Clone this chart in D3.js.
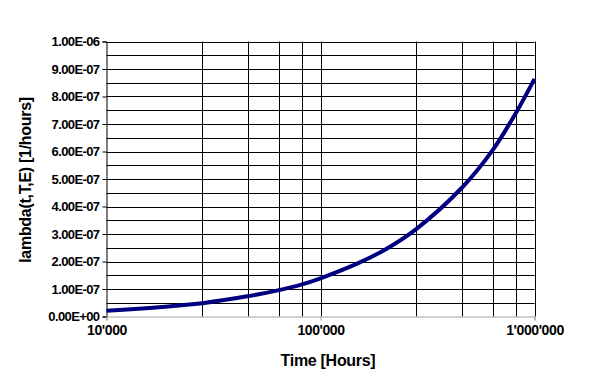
<!DOCTYPE html>
<html><head><meta charset="utf-8">
<script src="https://cdn.jsdelivr.net/npm/d3@7"></script>
<style>
body{margin:0;background:#fff;}
text{font-family:"Liberation Sans",Arial,sans-serif;font-weight:bold;fill:#000;}
</style></head><body>
<svg id="c" width="604" height="375"></svg>
<script>
// Data
const timeHours = [10000, 28000, 46000, 64000, 82000, 100000, 150000, 200000, 280000, 460000, 640000, 820000, 1000000];
const lambdaVals = [2.07e-8, 4.85e-8, 7.4e-8, 9.6e-8, 1.17e-7, 1.39e-7, 1.94e-7, 2.43e-7, 3.18e-7, 4.7e-7, 6.07e-7, 7.41e-7, 8.64e-7];
const xMajorTicks = [10000, 100000, 1000000];
const xTickLabels = ["10'000", "100'000", "1'000'000"];
const xMinorGrid = [28000, 46000, 64000, 82000, 280000, 460000, 640000, 820000];
const yTicks = [0, 1e-7, 2e-7, 3e-7, 4e-7, 5e-7, 6e-7, 7e-7, 8e-7, 9e-7, 1e-6];
const yTickLabels = ["0.00E+00","1.00E-07","2.00E-07","3.00E-07","4.00E-07","5.00E-07","6.00E-07","7.00E-07","8.00E-07","9.00E-07","1.00E-06"];
const yMinorGrid = [0.5e-7,1.5e-7,2.5e-7,3.5e-7,4.5e-7,5.5e-7,6.5e-7,7.5e-7,8.5e-7,9.5e-7];

const svg = d3.select("#c");
const L = 106.5, R = 534.5, T = 41.5, B = 316.5;
const x = d3.scaleLog().domain([10000, 1000000]).range([L, R]);
const y = d3.scaleLinear().domain([0, 1e-6]).range([B, T]);

const g = svg.append("g");
// horizontal grid
g.selectAll("line.hg").data(yTicks.slice(1).concat(yMinorGrid)).enter().append("line")
  .attr("x1", L).attr("x2", R).attr("y1", d => Math.round(y(d)) + 0.5).attr("y2", d => Math.round(y(d)) + 0.5)
  .attr("stroke", "#000").attr("stroke-width", 1);
// vertical grid
g.selectAll("line.vg").data(xMinorGrid.concat([100000, 1000000])).enter().append("line")
  .attr("x1", d => Math.round(x(d)) + 0.5).attr("x2", d => Math.round(x(d)) + 0.5).attr("y1", T).attr("y2", B)
  .attr("stroke", "#000").attr("stroke-width", 1);

// y axis
const yAxis = d3.axisLeft(y).tickValues(yTicks).tickSize(4).tickPadding(3)
  .tickFormat((d, i) => yTickLabels[i]);
const ya = svg.append("g").attr("transform", `translate(${L},0)`).call(yAxis);
ya.select(".domain").attr("stroke", "#000");
ya.selectAll(".tick line").attr("stroke", "#000");
ya.selectAll(".tick text").attr("font-size", 13).attr("font-family", "Liberation Sans, Arial, sans-serif")
  .attr("font-weight", "bold").attr("fill", "#000").attr("letter-spacing", "-0.6px");

// x axis
const xAxis = d3.axisBottom(x).tickValues(xMajorTicks).tickSize(4).tickPadding(5)
  .tickFormat((d, i) => xTickLabels[i]);
const xa = svg.append("g").attr("transform", `translate(0,${B})`).call(xAxis);
xa.select(".domain").attr("stroke", "#a0a0a0");
xa.selectAll(".tick line").attr("stroke", "#a0a0a0");
xa.selectAll(".tick text").attr("font-size", 14).attr("font-family", "Liberation Sans, Arial, sans-serif")
  .attr("font-weight", "bold").attr("fill", "#000").attr("letter-spacing", "-0.4px");

// curve
const lineGen = d3.line().x(d => x(d[0])).y(d => y(d[1])).curve(d3.curveCatmullRom.alpha(0.5));
svg.append("path").datum(timeHours.map((t, i) => [t, lambdaVals[i]]))
  .attr("d", lineGen).attr("fill", "none").attr("stroke", "#000080").attr("stroke-width", 4);

// titles
svg.append("text").attr("x", 328).attr("y", 366).attr("text-anchor", "middle")
  .attr("font-size", 16).attr("letter-spacing", "-0.3px").text("Time [Hours]");
svg.append("text").attr("transform", "translate(31,180) rotate(-90)").attr("text-anchor", "middle")
  .attr("font-size", 16).attr("letter-spacing", "-0.3px").text("lambda(t,T,E) [1/hours]");
</script>
</body></html>
